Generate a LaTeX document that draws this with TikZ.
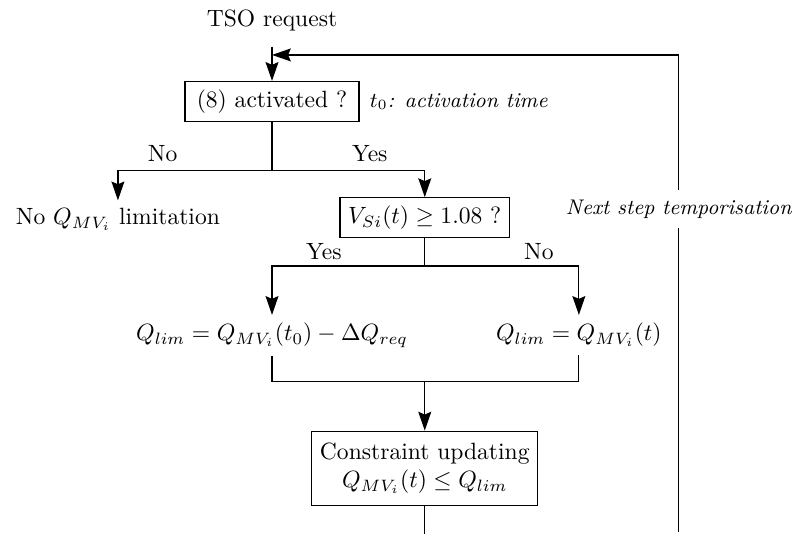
\documentclass[tikz,border=0pt]{standalone}
\usetikzlibrary{positioning,arrows.meta}

\begin{document}
\begin{tikzpicture}[
  box/.style={draw, line width=0.5pt, inner sep=3.5pt},
  link/.style={line width=0.5pt},
  flow/.style={-{Stealth[length=8pt,width=5.5pt,inset=1.2pt]}, link},
  lbl/.style={above},
  note/.style={font=\small\itshape}
]
\useasboundingbox (0,0) rectangle (11.836,-7.970);

% Nodes (main column)
\node (tso) at (4.06,-0.30) {TSO request};
\node[box, inner xsep=5pt] (act) at (4.06,-1.515) {(8) activated ?};
\node[note, right=0.3mm of act] (t0) {$t_0$: activation time};

% Nodes (first branch)
\node[anchor=north] (nolim) at (1.76,-2.99) {No $Q_{MV_i}$ limitation};
\node[box] (vsi) at (6.34,-3.25) {$V_{Si}(t) \geq 1.08$ ?};

% Nodes (second branch)
\node[anchor=north] (qa) at (4.06,-4.70) {$Q_{lim} = Q_{MV_i}(t_0) - \Delta Q_{req}$};
\node[anchor=north] (qb) at (8.64,-4.70) {$Q_{lim} = Q_{MV_i}(t)$};

% Update box
\node[box, inner ysep=5pt, align=center] (upd) at (6.34,-6.99) {Constraint updating\\ $Q_{MV_i}(t) \leq Q_{lim}$};

% Feedback loop label
\node[note, minimum height=16pt] (tempo) at (10.13,-3.12) {Next step temporisation};

% Corner and end points
\coordinate (top) at (4.06,-0.70);
\coordinate (back) at (4.06,-0.82);
\coordinate (split1) at (4.06,-2.54);
\coordinate (split2) at (6.34,-3.97);
\coordinate (join) at (6.34,-5.70);
\coordinate (low) at (6.34,-7.97);
\coordinate (tail) at (10.13,-7.94);

% Main flow
\draw[flow] (top) -- (act);
\draw[link] (act) -- (split1);
\draw[flow] (split1) -| node[lbl, pos=0.355] (no1) {No} (nolim);
\draw[flow] (split1) -| node[lbl, pos=0.32] (yes1) {Yes} (vsi);
\draw[link] (vsi) -- (split2);
\draw[flow] (split2) -| node[lbl, pos=0.33, yshift=-1pt] (yes2) {Yes} (qa);
\draw[flow] (split2) -| node[lbl, pos=0.37, yshift=-1pt] (no2) {No} (qb);
\draw[link] (qa) |- (join) -| (qb);
\draw[flow] (join) -- (upd);
\draw[link] (upd) -- (low);

% Feedback loop
\draw[flow] (tempo.north) |- (back);
\draw[link] (tempo.south) -- (tail);

\end{tikzpicture}
\end{document}
